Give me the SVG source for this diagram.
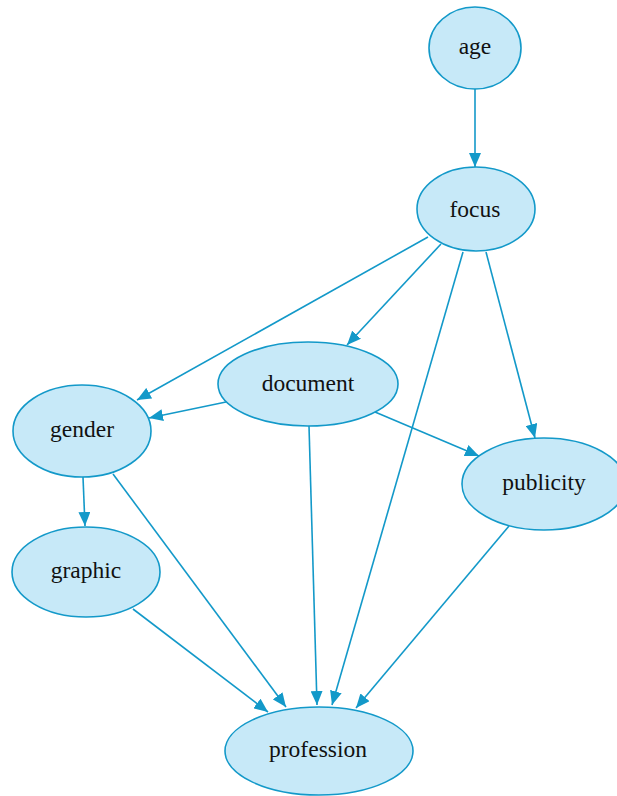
<svg xmlns="http://www.w3.org/2000/svg" width="617" height="796" viewBox="0 0 617 796">
<style>
.node ellipse{fill:#c7e9f8;stroke:#1399c9;stroke-width:1.6}
.node text{font-family:'Liberation Serif','Times New Roman','DejaVu Serif',serif;font-size:23.5px;fill:#111;text-anchor:middle}
.edges line{stroke:#1399c9;stroke-width:1.6;marker-end:url(#arr)}
</style>
<defs>
<marker id="arr" markerUnits="userSpaceOnUse" markerWidth="14" markerHeight="12" viewBox="0 0 14 12" refX="14" refY="6" orient="auto">
<path d="M0,0 L14,6 L0,12 Z" fill="#1399c9"/>
</marker>
</defs>
<rect width="617" height="796" fill="#fff"/>
<g class="edges">
<line x1="475" y1="89" x2="475" y2="167"/>
<line x1="428" y1="237" x2="137" y2="400"/>
<line x1="441" y1="244" x2="347" y2="345"/>
<line x1="463" y1="252" x2="332" y2="705"/>
<line x1="486" y1="252" x2="535" y2="438"/>
<line x1="226" y1="402" x2="149" y2="418"/>
<line x1="375" y1="412" x2="479" y2="456"/>
<line x1="309" y1="426" x2="317" y2="705"/>
<line x1="83" y1="477" x2="85" y2="526"/>
<line x1="113" y1="474" x2="286" y2="707"/>
<line x1="133" y1="609" x2="268" y2="712"/>
<line x1="509" y1="526" x2="356" y2="708"/>
</g>
<g id="age" class="node"><ellipse cx="475" cy="48" rx="46" ry="41"/><text x="475" y="54">age</text></g>
<g id="focus" class="node"><ellipse cx="476" cy="209" rx="59" ry="42"/><text x="475" y="217">focus</text></g>
<g id="document" class="node"><ellipse cx="308" cy="384" rx="90" ry="42"/><text x="308" y="391">document</text></g>
<g id="gender" class="node"><ellipse cx="82" cy="431" rx="69" ry="46"/><text x="82" y="437">gender</text></g>
<g id="publicity" class="node"><ellipse cx="544" cy="484" rx="82" ry="46"/><text x="544" y="490">publicity</text></g>
<g id="graphic" class="node"><ellipse cx="86" cy="572" rx="74" ry="45"/><text x="86" y="578">graphic</text></g>
<g id="profession" class="node"><ellipse cx="319" cy="751" rx="94" ry="44"/><text x="318" y="757">profession</text></g>
</svg>
